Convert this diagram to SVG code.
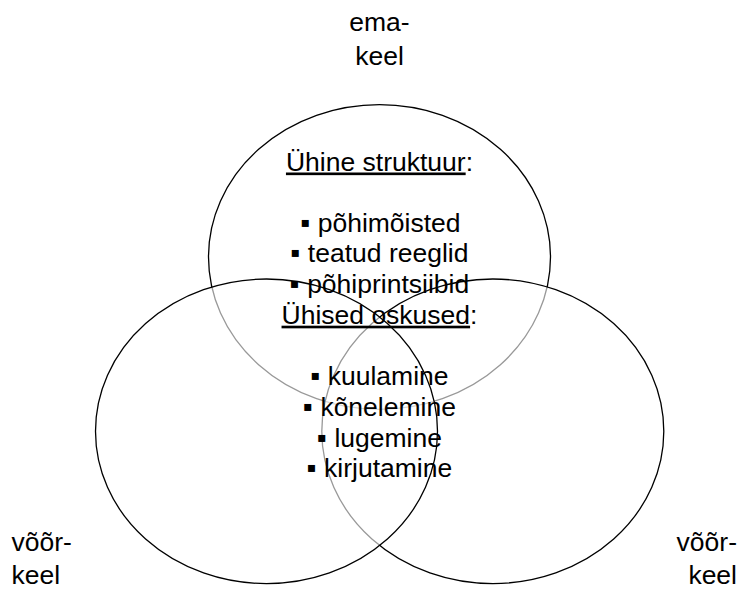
<svg xmlns="http://www.w3.org/2000/svg" width="748" height="590" viewBox="0 0 748 590">
<style>
.c{fill:#fff;fill-opacity:0.6;stroke:#000;stroke-width:1.3}
text{font-family:"Liberation Sans",Arial,sans-serif;font-size:26.5px;fill:#000}
.m{text-anchor:middle}
.u{text-decoration:underline}
.b{font-size:28px}
</style>
<rect width="748" height="590" fill="#fff"/>
<g id="emakeel">
<ellipse class="c" cx="379.5" cy="257" rx="171" ry="152.3"/>
</g>
<g id="voorkeel-right">
<ellipse class="c" cx="492.8" cy="431.3" rx="171" ry="152.3"/>
</g>
<g id="voorkeel-left">
<ellipse class="c" cx="266.5" cy="431.3" rx="171" ry="152.3"/>
</g>
<g id="label-top">
<text class="m" x="379.5" y="31">ema-</text>
<text class="m" x="379.5" y="65">keel</text>
</g>
<g id="label-left">
<text x="11.5" y="551">võõr-</text>
<text x="11.5" y="584">keel</text>
</g>
<g id="label-right">
<text x="737" y="551" text-anchor="end">võõr-</text>
<text x="737" y="584" text-anchor="end">keel</text>
</g>
<g id="struktuur">
<text class="m" x="379.5" y="170.5"><tspan class="u">Ühine struktuur</tspan>:</text>
<text class="m" x="380.5" y="231.7"><tspan class="b">▪</tspan> põhimõisted</text>
<text class="m" x="379.5" y="262.4"><tspan class="b">▪</tspan> teatud reeglid</text>
<text class="m" x="379.5" y="293"><tspan class="b">▪</tspan> põhiprintsiibid</text>
</g>
<g id="oskused">
<text class="m" x="379.5" y="323.7"><tspan class="u">Ühised oskused</tspan>:</text>
<text class="m" x="379.5" y="385.3"><tspan class="b">▪</tspan> kuulamine</text>
<text class="m" x="379.5" y="416"><tspan class="b">▪</tspan> kõnelemine</text>
<text class="m" x="379.5" y="446.6"><tspan class="b">▪</tspan> lugemine</text>
<text class="m" x="379.5" y="477.2"><tspan class="b">▪</tspan> kirjutamine</text>
</g>
</svg>
